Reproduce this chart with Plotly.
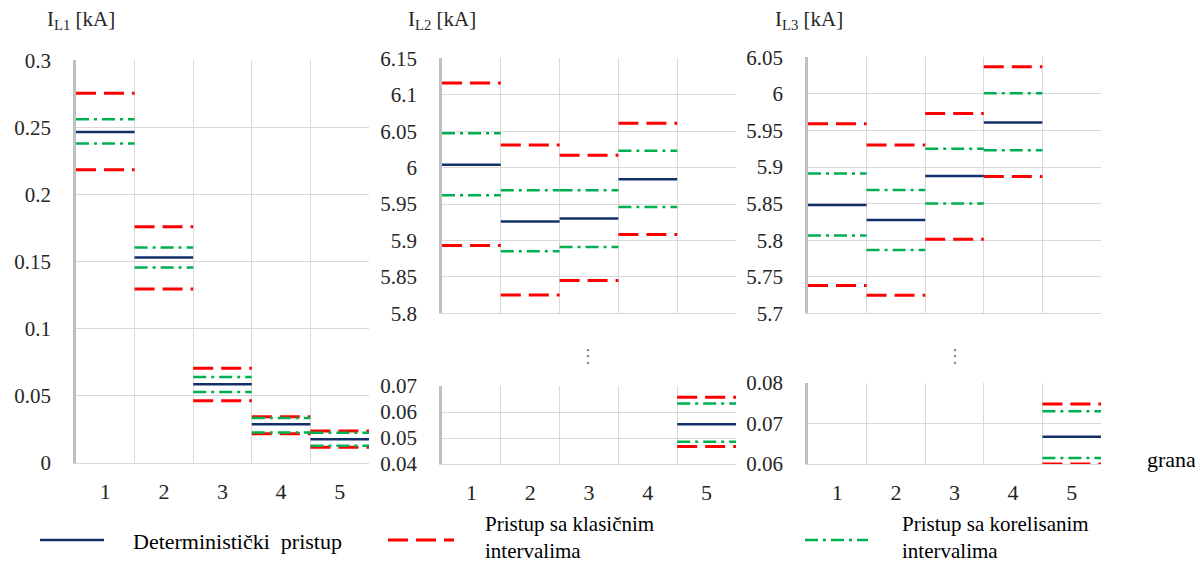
import plotly.graph_objects as go

W, H = 1203, 565
OFF = 8  # page body margin offset

# ---------------- data ----------------
categories = [1, 2, 3, 4, 5]
cat_labels = ["1", "2", "3", "4", "5"]

# I_L1
det1 = [0.2465, 0.153, 0.0586, 0.0288, 0.0176]
kl1_hi = [0.2755, 0.176, 0.0705, 0.0345, 0.0238]
kl1_lo = [0.2184, 0.1296, 0.0464, 0.0218, 0.0117]
kor1_hi = [0.256, 0.1606, 0.064, 0.0335, 0.0225]
kor1_lo = [0.238, 0.1457, 0.0529, 0.0228, 0.0129]

# I_L2
det2 = [6.004, 5.926, 5.930, 5.984, 0.0553]
kl2_hi = [6.116, 6.031, 6.017, 6.061, 0.0657]
kl2_lo = [5.893, 5.825, 5.845, 5.908, 0.0467]
kor2_hi = [6.047, 5.969, 5.969, 6.023, 0.0633]
kor2_lo = [5.962, 5.885, 5.891, 5.946, 0.0486]

# I_L3
det3 = [5.848, 5.8275, 5.8876, 5.961, 0.0667]
kl3_hi = [5.959, 5.930, 5.973, 6.037, 0.0748]
kl3_lo = [5.738, 5.7246, 5.8014, 5.887, 0.0600]
kor3_hi = [5.891, 5.8685, 5.925, 6.001, 0.0730]
kor3_lo = [5.8065, 5.7864, 5.850, 5.923, 0.0615]

# tick labels
y1_ticks = [0, 0.05, 0.1, 0.15, 0.2, 0.25, 0.3]
y1_text = ["0", "0.05", "0.1", "0.15", "0.2", "0.25", "0.3"]
y2t_ticks = [5.8, 5.85, 5.9, 5.95, 6.0, 6.05, 6.1, 6.15]
y2t_text = ["5.8", "5.85", "5.9", "5.95", "6", "6.05", "6.1", "6.15"]
y2b_ticks = [0.04, 0.05, 0.06, 0.07]
y2b_text = ["0.04", "0.05", "0.06", "0.07"]
y3t_ticks = [5.7, 5.75, 5.8, 5.85, 5.9, 5.95, 6.0, 6.05]
y3t_text = ["5.7", "5.75", "5.8", "5.85", "5.9", "5.95", "6", "6.05"]
y3b_ticks = [0.06, 0.07, 0.08]
y3b_text = ["0.06", "0.07", "0.08"]

series_names = ["Deterministički  pristup", "Pristup sa klasičnim<br>intervalima",
                "Pristup sa korelisanim<br>intervalima"]

# ---------------- styles ----------------
NAVY = "#13306b"
RED = "#ff0000"
GREEN = "#00b050"
GRID = "#d9d9d9"
FONT = "Liberation Serif"
TXT = "#262626"
FS = 21

st_det = dict(color=NAVY, width=2.5, dash="solid")
st_kl = dict(color=RED, width=3, dash="20px,8px")
st_kor = dict(color=GREEN, width=2.5, dash="13px,5px,3px,5px")


def px_x(p):
    return (p - OFF) / W


def px_y(p):
    return 1 - (p - OFF) / H


def steps(vals):
    xs, ys = [], []
    for c, v in zip(categories, vals):
        xs += [c - 0.5, c + 0.5, None]
        ys += [v, v, None]
    return xs, ys


fig = go.Figure()


def add_set(xa, ya, sets):
    for vals, st in sets:
        xs, ys = steps(vals)
        fig.add_trace(go.Scatter(x=xs, y=ys, mode="lines", line=st, xaxis=xa, yaxis=ya,
                                 showlegend=False, hoverinfo="skip"))


p1 = [(kl1_hi, st_kl), (kl1_lo, st_kl), (kor1_hi, st_kor), (kor1_lo, st_kor), (det1, st_det)]
p2 = [(kl2_hi, st_kl), (kl2_lo, st_kl), (kor2_hi, st_kor), (kor2_lo, st_kor), (det2, st_det)]
p3 = [(kl3_hi, st_kl), (kl3_lo, st_kl), (kor3_hi, st_kor), (kor3_lo, st_kor), (det3, st_det)]

add_set("x", "y", p1)
add_set("x2", "y2", p2)
add_set("x3", "y3", p2)
add_set("x4", "y4", p3)
add_set("x5", "y5", p3)

bounds = [c - 0.5 for c in categories] + [categories[-1] + 0.5]


def xax(dom, anchor, labels):
    return dict(domain=dom, anchor=anchor, range=[0.5, 5.5], tickvals=categories,
                ticktext=cat_labels, showticklabels=labels, showgrid=False, zeroline=False,
                ticks="", showline=True, linecolor=GRID, linewidth=1,
                ticklabelstandoff=9, automargin=False,
                tickfont=dict(family=FONT, size=22, color=TXT),
                minor=dict(tickvals=bounds, showgrid=True, gridcolor=GRID, gridwidth=1, ticks=""),
                fixedrange=True)


def yax(dom, anchor, rng, tv, tt):
    return dict(domain=dom, anchor=anchor, range=rng, tickvals=tv, ticktext=tt,
                showgrid=True, gridcolor=GRID, gridwidth=1, zeroline=False, ticks="",
                showline=True, linecolor="#bfbfbf", linewidth=2.5,
                ticklabelstandoff=18, automargin=False,
                tickfont=dict(family=FONT, size=FS, color=TXT), fixedrange=True)


x1d = [px_x(76), px_x(369)]
x2d = [px_x(442), px_x(736)]
x3d = [px_x(808), px_x(1101)]

fig.update_layout(
    width=W, height=H, margin=dict(l=0, r=0, t=0, b=0, autoexpand=False),
    paper_bgcolor="white", plot_bgcolor="white",
    showlegend=False,
    font=dict(family=FONT, size=FS, color=TXT),
    xaxis=xax(x1d, "y", True),
    yaxis=yax([px_y(463), px_y(60.3)], "x", [0, 0.3], y1_ticks, y1_text),
    xaxis2=xax(x2d, "y2", False),
    yaxis2=yax([px_y(313.3), px_y(58.3)], "x2", [5.8, 6.15], y2t_ticks, y2t_text),
    xaxis3=xax(x2d, "y3", True),
    yaxis3=yax([px_y(464), px_y(386)], "x3", [0.04, 0.07], y2b_ticks, y2b_text),
    xaxis4=xax(x3d, "y4", False),
    yaxis4=yax([px_y(313.3), px_y(57.3)], "x4", [5.7, 6.05], y3t_ticks, y3t_text),
    xaxis5=xax(x3d, "y5", True),
    yaxis5=yax([px_y(464), px_y(383)], "x5", [0.06, 0.08], y3b_ticks, y3b_text),
)

anns = []
for x0, lab in [(45, "I<sub>L1</sub> [kA]"), (406, "I<sub>L2</sub> [kA]"), (773, "I<sub>L3</sub> [kA]")]:
    anns.append(dict(x=px_x(x0), y=px_y(20), xref="paper", yref="paper", text=lab,
                     showarrow=False, xanchor="left", yanchor="middle",
                     font=dict(family=FONT, size=FS, color=TXT)))
for xc in [588, 955]:
    anns.append(dict(x=px_x(xc), y=px_y(355), xref="paper", yref="paper", text="⋮",
                     showarrow=False, xanchor="center", yanchor="middle",
                     font=dict(family="DejaVu Sans", size=18, color="#7f7f7f")))
anns.append(dict(x=px_x(1145), y=px_y(459), xref="paper", yref="paper", text="grana",
                 showarrow=False, xanchor="left", yanchor="middle",
                 font=dict(family=FONT, size=22, color="#000000")))

# legend (manual)
leg = [(40, 104, 131, st_det, series_names[0], 541, 22),
       (388, 454, 483, st_kl, series_names[1], 537, 21),
       (805, 868, 900, st_kor, series_names[2], 537, 21)]
shapes = []
for xa, xb, xt, st, name, yt, fs in leg:
    shapes.append(dict(type="line", xref="paper", yref="paper", x0=px_x(xa), x1=px_x(xb),
                       y0=px_y(540), y1=px_y(540), line=st))
    anns.append(dict(x=px_x(xt), y=px_y(yt), xref="paper", yref="paper", text=name,
                     showarrow=False, xanchor="left", yanchor="middle", align="left",
                     font=dict(family=FONT, size=fs, color="#000000")))

fig.update_layout(annotations=anns, shapes=shapes)

fig.write_html("out.html", config={"displayModeBar": False})
